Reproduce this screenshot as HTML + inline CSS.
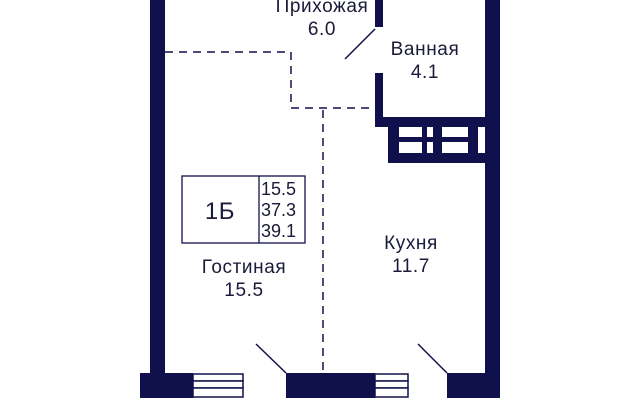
<!DOCTYPE html>
<html><head><meta charset="utf-8"><style>
html,body{margin:0;padding:0;background:#fff;width:640px;height:400px;overflow:hidden}
text{font-family:"Liberation Sans",sans-serif;fill:#1a1a3a}
</style></head><body>
<svg width="640" height="400" viewBox="0 0 640 400" xmlns="http://www.w3.org/2000/svg">
<g fill="#10104d">
<rect x="150" y="0" width="15" height="385"/>
<rect x="485" y="0" width="15" height="385"/>
<rect x="140" y="373" width="53" height="25"/>
<rect x="286" y="373" width="89" height="25"/>
<rect x="447" y="373" width="53" height="25"/>
<rect x="375" y="0" width="8" height="27"/>
<rect x="375" y="73" width="8" height="54"/>
<rect x="375" y="117" width="110" height="10"/>
<rect x="388" y="117" width="97" height="46"/>
</g>
<g fill="#fff">
<rect x="399" y="127" width="23" height="10"/><rect x="427" y="127" width="6" height="10"/><rect x="442" y="127" width="26" height="10"/><rect x="478" y="127" width="7" height="26"/>
<rect x="399" y="142" width="23" height="11"/><rect x="427" y="142" width="6" height="11"/><rect x="442" y="142" width="26" height="11"/>
</g>
<g fill="#fff" stroke="#10104d" stroke-width="1.5">
<rect x="193" y="374" width="50" height="7"/><rect x="193" y="381" width="50" height="7"/><rect x="193" y="388" width="50" height="9"/>
<rect x="375" y="374" width="33" height="7"/><rect x="375" y="381" width="33" height="7"/><rect x="375" y="388" width="33" height="9"/>
</g>
<g stroke="#10104d" stroke-width="1.5" fill="none">
<line x1="345" y1="59" x2="375" y2="29"/>
<line x1="256" y1="344" x2="286" y2="373"/>
<line x1="418" y1="344" x2="447" y2="373"/>
<polyline points="165,52 291,52 291,108 375,108" stroke-dasharray="8,6"/>
<line x1="323" y1="110" x2="323" y2="373" stroke-dasharray="8,6"/>
<rect x="182" y="176" width="123" height="67" stroke-width="1.3"/>
<line x1="259" y1="176" x2="259" y2="243" stroke-width="1.3"/>
</g>
<g font-size="19" text-anchor="middle" letter-spacing="0.6">
<text x="322" y="12">Прихожая</text><text x="322" y="35">6.0</text>
<text x="425" y="55">Ванная</text><text x="425" y="78">4.1</text>
<text x="411" y="249">Кухня</text><text x="411" y="272">11.7</text>
<text x="244" y="273">Гостиная</text><text x="244" y="296">15.5</text>
<text x="220" y="219" font-size="24">1Б</text>
</g>
<g font-size="18">
<text x="261" y="195">15.5</text><text x="261" y="216">37.3</text><text x="261" y="237">39.1</text>
</g>
</svg>
</body></html>
